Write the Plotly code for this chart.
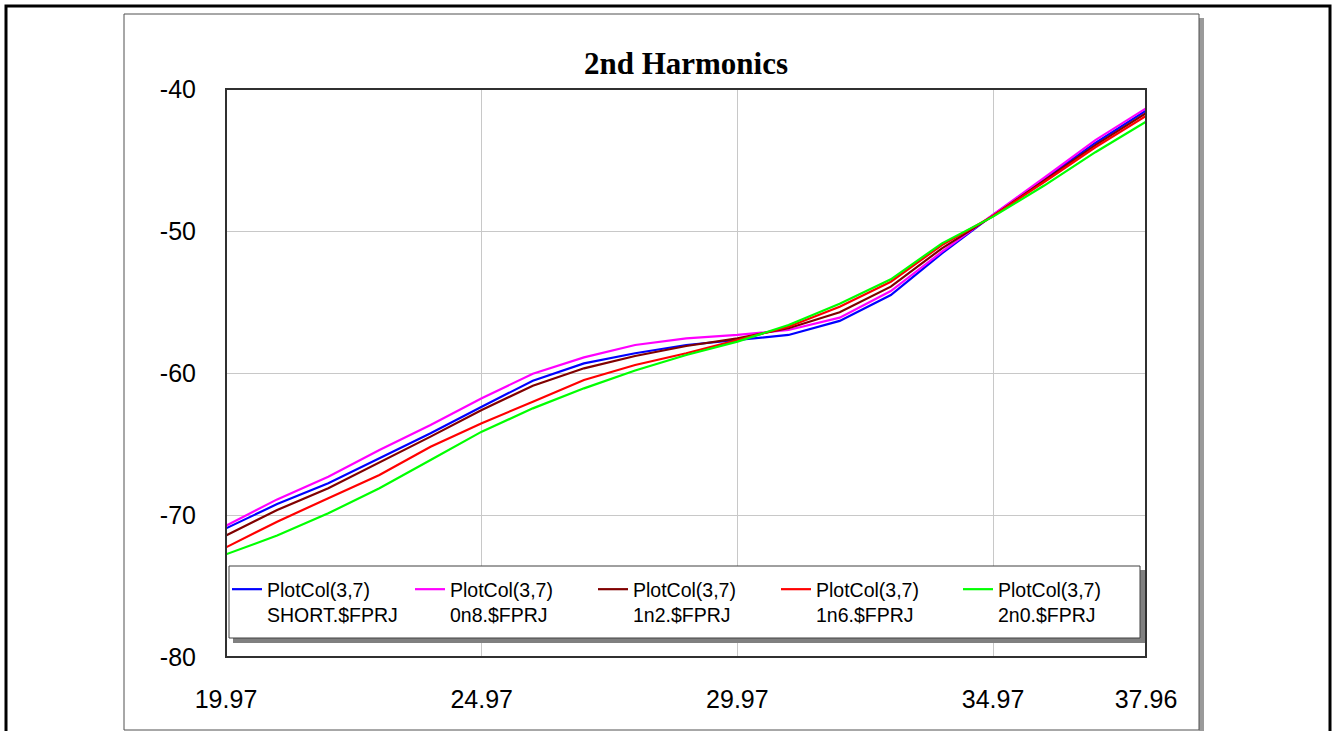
import plotly.graph_objects as go

# Frequency sweep (x) and second-harmonic level (dBc) for each load variant
freq = [19.97, 20.97, 21.97, 22.97, 23.97, 24.97, 25.97, 26.97, 27.97, 28.97,
        29.97, 30.97, 31.97, 32.97, 33.97, 34.97, 35.97, 36.97, 37.96]

short_vals = [-70.94, -69.23, -67.77, -66.01, -64.25, -62.37, -60.55, -59.32, -58.61, -58.03,
              -57.68, -57.32, -56.33, -54.51, -51.57, -48.87, -46.35, -43.80, -41.53]
n08_vals = [-70.75, -68.90, -67.30, -65.42, -63.66, -61.78, -60.05, -58.90, -58.03, -57.56,
            -57.32, -56.97, -56.10, -54.23, -51.46, -48.87, -46.25, -43.60, -41.36]
n12_vals = [-71.45, -69.65, -68.12, -66.32, -64.48, -62.60, -60.90, -59.67, -58.80, -58.10,
            -57.56, -56.85, -55.72, -53.92, -51.22, -48.94, -46.45, -43.95, -41.71]
n16_vals = [-72.28, -70.47, -68.82, -67.18, -65.19, -63.54, -62.02, -60.49, -59.44, -58.61,
            -57.68, -56.74, -55.33, -53.57, -50.99, -48.94, -46.55, -44.10, -41.90]
n20_vals = [-72.77, -71.45, -69.88, -68.12, -66.13, -64.13, -62.49, -61.08, -59.82, -58.73,
            -57.79, -56.62, -55.13, -53.40, -50.87, -48.99, -46.80, -44.45, -42.30]

series_names = ["PlotCol(3,7)<br>SHORT.$FPRJ", "PlotCol(3,7)<br>0n8.$FPRJ",
                "PlotCol(3,7)<br>1n2.$FPRJ", "PlotCol(3,7)<br>1n6.$FPRJ",
                "PlotCol(3,7)<br>2n0.$FPRJ"]
series_vals = [short_vals, n08_vals, n12_vals, n16_vals, n20_vals]
series_colors = ["#0000FF", "#FF00FF", "#800000", "#FF0000", "#00FF00"]

x_ticks = [19.97, 24.97, 29.97, 34.97, 37.96]
x_tick_text = ["19.97", "24.97", "29.97", "34.97", "37.96"]
y_ticks = [-80, -70, -60, -50, -40]
y_tick_text = ["-80", "-70", "-60", "-50", "-40"]

W, H = 1333, 731
PL, PR, PT, PB = 226, 1146, 89, 657  # plot area in pixels


def px(x):
    return (x - PL) / (PR - PL)


def py(y):
    return (PB - y) / (PB - PT)


SANS = "Liberation Sans, Arial, sans-serif"
SERIF = "Liberation Serif, Times New Roman, serif"

fig = go.Figure()
legend_ids = ["legend", "legend2", "legend3", "legend4", "legend5"]
for name, vals, color, lid in zip(series_names, series_vals, series_colors, legend_ids):
    fig.add_trace(go.Scatter(
        x=freq, y=vals, mode="lines", name=name,
        line=dict(color=color, width=2.2),
        legend=lid, showlegend=True,
    ))

shapes = [
    # outer black border
    dict(type="rect", xref="paper", yref="paper", layer="below",
         x0=px(6), x1=px(1330), y0=py(745), y1=py(6),
         line=dict(color="black", width=3), fillcolor="rgba(0,0,0,0)"),
    # chart frame shadow
    dict(type="rect", xref="paper", yref="paper", layer="below",
         x0=px(1199), x1=px(1204), y0=py(745), y1=py(18),
         line=dict(width=0), fillcolor="#9a9a9a"),
    # chart frame
    dict(type="rect", xref="paper", yref="paper", layer="below",
         x0=px(124), x1=px(1199), y0=py(730), y1=py(14),
         line=dict(color="#505050", width=1), fillcolor="white"),
    # plot area border
    dict(type="rect", xref="paper", yref="paper", layer="above",
         x0=0, x1=1, y0=0, y1=1,
         line=dict(color="#303030", width=2), fillcolor="rgba(0,0,0,0)"),
    # legend box shadow
    dict(type="rect", xref="paper", yref="paper", layer="above",
         x0=px(233), x1=px(1145), y0=py(643), y1=py(570),
         line=dict(width=0), fillcolor="#808080"),
    # legend box
    dict(type="rect", xref="paper", yref="paper", layer="above",
         x0=px(229), x1=px(1140), y0=py(638), y1=py(566),
         line=dict(color="#404040", width=1), fillcolor="white"),
]

legend_left_px = [227, 410, 593, 776, 958]
legend_common = dict(
    bgcolor="rgba(0,0,0,0)", borderwidth=0, valign="top",
    font=dict(family=SANS, size=19.5, color="black"),
    xanchor="left", yanchor="top", itemwidth=30,
)
layout_legends = {}
for lid, lx in zip(legend_ids, legend_left_px):
    layout_legends[lid] = dict(x=px(lx), y=py(570), **legend_common)

fig.update_layout(
    width=W, height=H,
    margin=dict(l=PL, r=W - PR, t=PT, b=H - PB, pad=0),
    paper_bgcolor="white", plot_bgcolor="white",
    title=dict(text="<b>2nd Harmonics</b>", x=0.5, xref="paper", xanchor="center",
               y=1 - 63 / H, yanchor="middle",
               font=dict(family=SERIF, size=31, color="black")),
    xaxis=dict(range=[19.97, 37.96], tickvals=x_ticks, ticktext=x_tick_text,
               showgrid=True, gridcolor="#c8c8c8", gridwidth=1, zeroline=False,
               showline=False, ticks="", ticklabelstandoff=25,
               tickfont=dict(family=SANS, size=25, color="black")),
    yaxis=dict(range=[-80, -40], tickvals=y_ticks, ticktext=y_tick_text,
               showgrid=True, gridcolor="#c8c8c8", gridwidth=1, zeroline=False,
               showline=False, ticks="", ticklabelstandoff=29,
               tickfont=dict(family=SANS, size=25, color="black")),
    shapes=shapes,
    **layout_legends,
)

fig.write_html("out.html")
